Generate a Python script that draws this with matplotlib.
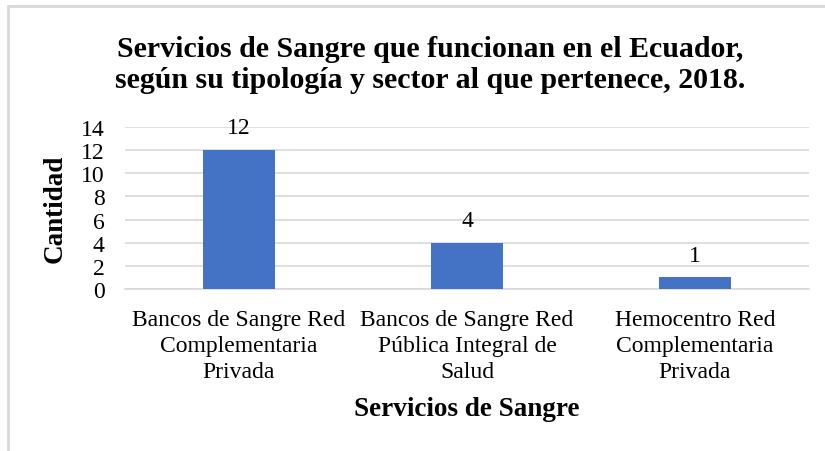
import matplotlib.pyplot as plt
from matplotlib.patches import Rectangle

categorias = ['Bancos de Sangre Red\nComplementaria\nPrivada',
              'Bancos de Sangre Red\nPública Integral de\nSalud',
              'Hemocentro Red\nComplementaria\nPrivada']
cantidad = [12, 4, 1]
yticks = [0, 2, 4, 6, 8, 10, 12, 14]

plt.rcParams['font.family'] = ['Liberation Serif', 'DejaVu Serif']

fig = plt.figure(figsize=(8.25, 4.52), dpi=100)
ax = fig.add_axes([0.1515, 0.3584, 0.829, 0.3584])

# marco gris de la figura
fig.patches.append(Rectangle((8 / 825, -0.1), 1.2, 1.1 - 7 / 452,
                             transform=fig.transFigure, fill=False,
                             edgecolor='#D9D9D9', linewidth=2))

x = range(len(categorias))
barras = ax.bar(x, cantidad, width=0.316, color='#4472C4', zorder=3)
ax.bar_label(barras, labels=[str(c) for c in cantidad], padding=8.5, fontsize=17)

ax.set_xlim(-0.5, len(categorias) - 0.5)
ax.set_ylim(0, 14)
ax.set_yticks(yticks)
ax.grid(axis='y', color='#D9D9D9', linewidth=1.2, zorder=0)
for s in ['top', 'right', 'left']:
    ax.spines[s].set_visible(False)
ax.spines['bottom'].set_color('#D9D9D9')
ax.spines['bottom'].set_linewidth(1.2)
ax.tick_params(axis='both', length=0, labelsize=17)
ax.tick_params(axis='y', pad=14.5)
ax.tick_params(axis='x', pad=14.5)

ax.set_xticks(list(x))
ax.set_xticklabels(categorias, linespacing=1.32)

ax.set_xlabel('Servicios de Sangre', fontsize=19.5, fontweight='bold', labelpad=10)
ax.set_ylabel('Cantidad', fontsize=19.5, fontweight='bold', labelpad=10)

fig.text(0.522, 0.857, 'Servicios de Sangre que funcionan en el Ecuador,\n'
         'según su tipología y sector al que pertenece, 2018.',
         ha='center', va='center', fontsize=21.5, fontweight='bold', linespacing=1.2)

fig.savefig('out.png', dpi=100)
